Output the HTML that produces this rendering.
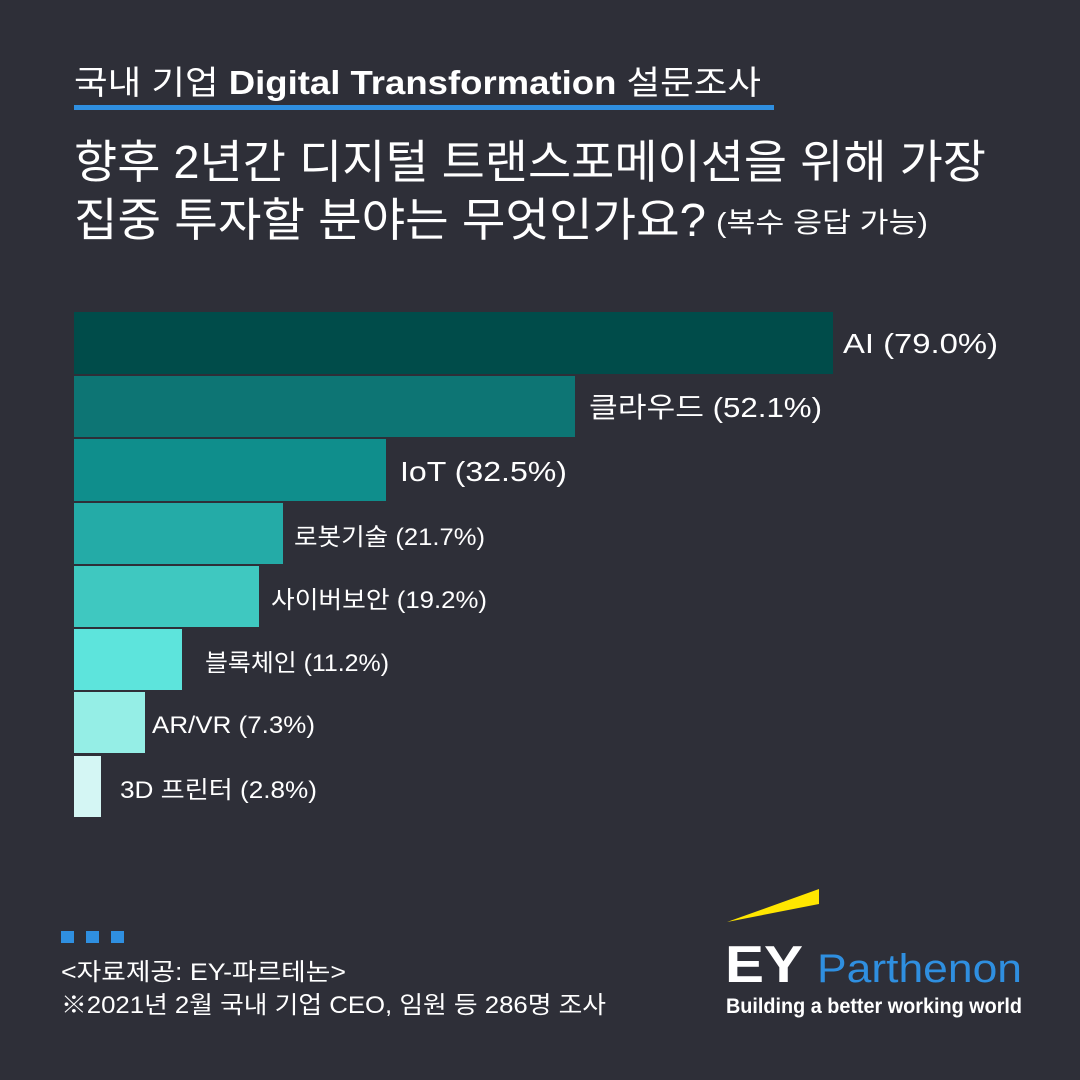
<!DOCTYPE html>
<html><head><meta charset="utf-8"><style>
html,body{margin:0;padding:0;background:#2e2f38;}
svg{display:block}
text{font-family:"Liberation Sans","Noto Sans CJK KR",sans-serif;fill:#fff;}
</style></head><body>
<svg width="1080" height="1080" viewBox="0 0 1080 1080" xmlns="http://www.w3.org/2000/svg">
<rect width="1080" height="1080" fill="#2e2f38"/>
<text x="74" y="94" font-size="33" textLength="687" lengthAdjust="spacingAndGlyphs">국내 기업 <tspan font-weight="bold">Digital Transformation</tspan> 설문조사</text>
<rect x="74" y="105" width="700" height="5" fill="#2f8fe0"/>
<text x="74" y="178" font-size="46" textLength="912" lengthAdjust="spacingAndGlyphs">향후 2년간 디지털 트랜스포메이션을 위해 가장</text>
<text x="74" y="236" font-size="46" textLength="632" lengthAdjust="spacingAndGlyphs">집중 투자할 분야는 무엇인가요?</text>
<text x="716" y="232" font-size="28" textLength="212" lengthAdjust="spacingAndGlyphs">(복수 응답 가능)</text>

<rect x="74" y="312" width="759" height="62" fill="#004c4a"/>
<rect x="74" y="376" width="501" height="61" fill="#0d7574"/>
<rect x="74" y="439" width="312" height="62" fill="#0f8e8c"/>
<rect x="74" y="503" width="209" height="61" fill="#24aba7"/>
<rect x="74" y="566" width="185" height="61" fill="#3fc8c0"/>
<rect x="74" y="629" width="108" height="61" fill="#5de4dc"/>
<rect x="74" y="692" width="71" height="61" fill="#95eee6"/>
<rect x="74" y="756" width="27" height="61" fill="#d4f6f4"/>

<text x="843" y="353" font-size="28" textLength="155" lengthAdjust="spacingAndGlyphs">AI (79.0%)</text>
<text x="589" y="417" font-size="28" textLength="233" lengthAdjust="spacingAndGlyphs">클라우드 (52.1%)</text>
<text x="400" y="481" font-size="28" textLength="167" lengthAdjust="spacingAndGlyphs">IoT (32.5%)</text>
<text x="294" y="545" font-size="24" textLength="191" lengthAdjust="spacingAndGlyphs">로봇기술 (21.7%)</text>
<text x="271" y="608" font-size="24" textLength="216" lengthAdjust="spacingAndGlyphs">사이버보안 (19.2%)</text>
<text x="205" y="671" font-size="24" textLength="184" lengthAdjust="spacingAndGlyphs">블록체인 (11.2%)</text>
<text x="152" y="733" font-size="24" textLength="163" lengthAdjust="spacingAndGlyphs">AR/VR (7.3%)</text>
<text x="120" y="798" font-size="24" textLength="197" lengthAdjust="spacingAndGlyphs">3D 프린터 (2.8%)</text>

<rect x="61" y="931" width="13" height="12" fill="#2f8fe0"/>
<rect x="86" y="931" width="13" height="12" fill="#2f8fe0"/>
<rect x="111" y="931" width="13" height="12" fill="#2f8fe0"/>
<text x="61" y="980" font-size="24" textLength="285" lengthAdjust="spacingAndGlyphs">&lt;자료제공: EY-파르테논&gt;</text>
<text x="61" y="1013" font-size="24" textLength="545" lengthAdjust="spacingAndGlyphs">※2021년 2월 국내 기업 CEO, 임원 등 286명 조사</text>

<polygon points="727,922 819,889 819,904" fill="#ffe600"/>
<text x="725" y="982" font-size="52" font-weight="bold" textLength="78" lengthAdjust="spacingAndGlyphs">EY</text>
<text x="817" y="982" font-size="40" fill="#2f8fe0" style="fill:#2f8fe0" textLength="205" lengthAdjust="spacingAndGlyphs">Parthenon</text>
<text x="726" y="1013" font-size="21" font-weight="bold" textLength="296" lengthAdjust="spacingAndGlyphs">Building a better working world</text>
</svg>
</body></html>
